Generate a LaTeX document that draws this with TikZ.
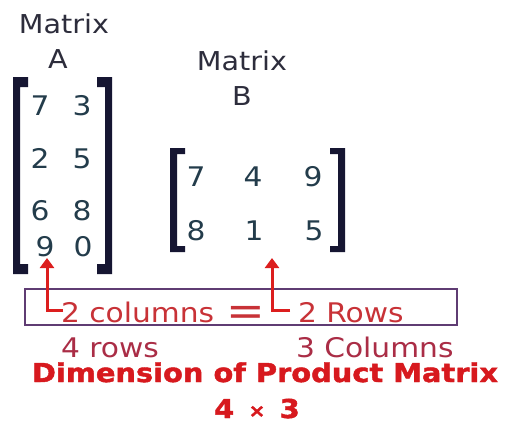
\documentclass[tikz,border=0pt]{standalone}
\usepackage{fontspec}
\setmainfont{DejaVu Sans}[FakeStretch=1.1]
\newfontfamily\heavyfont{DejaVu Sans Bold}[FakeStretch=1.11,FakeBold=1.6]
\usetikzlibrary{arrows.meta}
\definecolor{titlecol}{RGB}{45,45,60}
\definecolor{numcol}{RGB}{35,60,75}
\definecolor{brackcol}{RGB}{22,22,50}
\definecolor{redtxt}{RGB}{200,50,55}
\definecolor{maroon}{RGB}{170,45,70}
\definecolor{boldred}{RGB}{215,25,30}
\definecolor{arrred}{RGB}{220,30,30}
\definecolor{boxcol}{RGB}{95,60,115}
\begin{document}
\begin{tikzpicture}[x=1pt,y=-1pt,
  every node/.style={inner sep=0pt,outer sep=0pt,anchor=base},
  title/.style={font=\fontsize{26}{26}\selectfont,text=titlecol},
  num/.style={font=\fontsize{27}{27}\selectfont,text=numcol},
  redlab/.style={font=\fontsize{27}{27}\selectfont,text=redtxt},
  marlab/.style={font=\fontsize{27}{27}\selectfont,text=maroon},
  boldlab/.style={font=\fontsize{26}{26}\selectfont\heavyfont,text=boldred},
  brack/.style={fill=brackcol},
  redarr/.style={draw=arrred,line width=3pt,-{Triangle[width=14pt,length=10pt]}}
]
\useasboundingbox[fill=white] (0,0) rectangle (505,426);

% titles
\node[title] (tA1) at (64,33) {Matrix};
\node[title] (tA2) at (58,68) {A};
\node[title] (tB1) at (242,70) {Matrix};
\node[title] (tB2) at (242,105) {B};

% matrix A brackets
\fill[brack] (13,77) -- (28,77) -- (28,87) -- (20,87) -- (20,264) -- (28,264) -- (28,274) -- (13,274) -- cycle;
\fill[brack] (112,77) -- (97,77) -- (97,87) -- (105,87) -- (105,264) -- (97,264) -- (97,274) -- (112,274) -- cycle;

% matrix A entries
\node[num] (a11) at (40,115) {7};
\node[num] (a12) at (82,115) {3};
\node[num] (a21) at (40,168) {2};
\node[num] (a22) at (82,168) {5};
\node[num] (a31) at (40,220) {6};
\node[num] (a32) at (82,220) {8};
\node[num] (a41) at (45,256) {9};
\node[num] (a42) at (83,256) {0};

% matrix B brackets
\fill[brack] (170,148) -- (185,148) -- (185,154) -- (177,154) -- (177,246) -- (185,246) -- (185,252) -- (170,252) -- cycle;
\fill[brack] (345,148) -- (330,148) -- (330,154) -- (338,154) -- (338,246) -- (330,246) -- (330,252) -- (345,252) -- cycle;

% matrix B entries
\node[num] (b11) at (196,186) {7};
\node[num] (b12) at (253,186) {4};
\node[num] (b13) at (313,186) {9};
\node[num] (b21) at (196,240) {8};
\node[num] (b22) at (254,240) {1};
\node[num] (b23) at (314,240) {5};

% box
\draw[boxcol,line width=2pt] (25,289) rectangle (457,325);

% labels in box
\node[redlab,anchor=base west] (cols) at (61,322) {2 columns};
\node[font=\fontsize{42}{42}\selectfont,text=redtxt] (eq) at (246,325) {=};
\node[redlab,anchor=base west] (rows) at (298,322) {2 Rows};

% arrows
\coordinate (lc) at (63,310);
\coordinate (rc) at (290,310);
\coordinate (lt) at (47,258);
\coordinate (rt) at (272,258);
\draw[redarr] (lc) -- (lc -| lt) -- (lt);
\draw[redarr] (rc) -- (rc -| rt) -- (rt);

% below
\node[marlab,anchor=base west] (r4) at (61,357) {4 rows};
\node[marlab,anchor=base west] (c3) at (296,357) {3 Columns};
\node[boldlab] (dim) at (265,382) {Dimension of Product Matrix};
\node[boldlab] (res) at (257,418) {4 \,\raisebox{1pt}{\fontsize{18}{18}\selectfont ×}\, 3};
\end{tikzpicture}
\end{document}
